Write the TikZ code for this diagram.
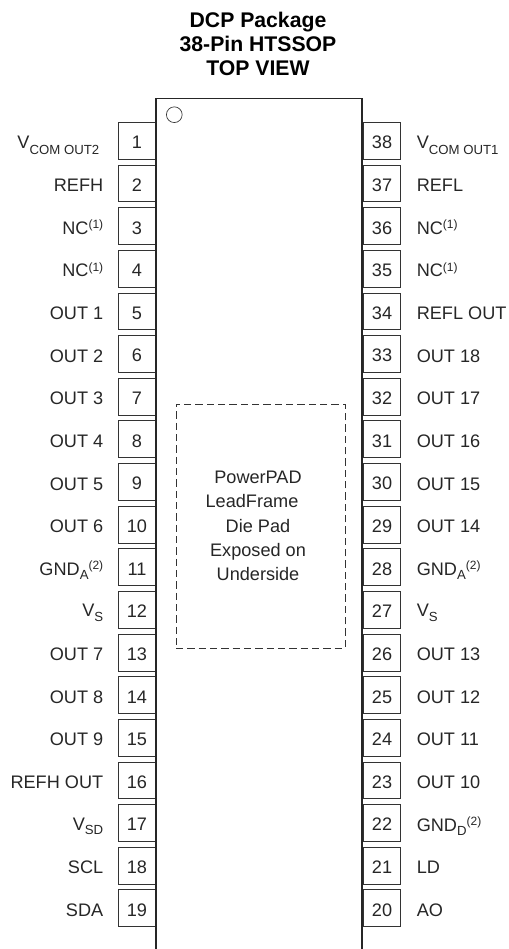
\documentclass[tikz,border=0pt]{standalone}
\usepackage{fontspec}
\setmainfont{Liberation Sans}
\usepackage{tikz}
\usetikzlibrary{calc}
\newcommand{\lsub}[2][3.2pt]{\raisebox{-#1}{\fontsize{9.9pt}{11pt}\selectfont #2}}
\newcommand{\lsup}[1]{\raisebox{4.2pt}{\fontsize{9pt}{11pt}\selectfont #1}}
\tikzset{
  pinbox/.style={draw=black!80,line width=0.6pt,minimum width=28.3pt,minimum height=27.7pt,inner sep=0pt,text height=11.9pt,text depth=0pt,font=\fontsize{13.6pt}{15pt}\selectfont,text=black!85},
  lname/.style={anchor=base east,inner sep=0pt,font=\fontsize{13.6pt}{15pt}\selectfont,text=black!85},
  rname/.style={anchor=base west,inner sep=0pt,font=\fontsize{13.6pt}{15pt}\selectfont,text=black!85},
}
\begin{document}
\begin{tikzpicture}[x=0.75pt,y=-0.75pt]
\useasboundingbox (0,0) rectangle (509,949);

\node[align=center,inner sep=0pt,font=\fontsize{15.9pt}{18pt}\selectfont\bfseries] (title) at (258,44) {DCP Package\\38-Pin HTSSOP\\TOP VIEW};

\node[pinbox] (P1) at (137,140.8) {1};
\node[pinbox] (P2) at (137,183.4) {2};
\node[pinbox] (P3) at (137,226.1) {3};
\node[pinbox] (P4) at (137,268.7) {4};
\node[pinbox] (P5) at (137,311.4) {5};
\node[pinbox] (P6) at (137,354.0) {6};
\node[pinbox] (P7) at (137,396.6) {7};
\node[pinbox] (P8) at (137,439.3) {8};
\node[pinbox] (P9) at (137,481.9) {9};
\node[pinbox] (P10) at (137,524.6) {10};
\node[pinbox] (P11) at (137,567.2) {11};
\node[pinbox] (P12) at (137,609.8) {12};
\node[pinbox] (P13) at (137,652.5) {13};
\node[pinbox] (P14) at (137,695.1) {14};
\node[pinbox] (P15) at (137,737.8) {15};
\node[pinbox] (P16) at (137,780.4) {16};
\node[pinbox] (P17) at (137,823.0) {17};
\node[pinbox] (P18) at (137,865.7) {18};
\node[pinbox] (P19) at (137,908.3) {19};

\node[pinbox] (P38) at (382,140.8) {38};
\node[pinbox] (P37) at (382,183.4) {37};
\node[pinbox] (P36) at (382,226.1) {36};
\node[pinbox] (P35) at (382,268.7) {35};
\node[pinbox] (P34) at (382,311.4) {34};
\node[pinbox] (P33) at (382,354.0) {33};
\node[pinbox] (P32) at (382,396.6) {32};
\node[pinbox] (P31) at (382,439.3) {31};
\node[pinbox] (P30) at (382,481.9) {30};
\node[pinbox] (P29) at (382,524.6) {29};
\node[pinbox] (P28) at (382,567.2) {28};
\node[pinbox] (P27) at (382,609.8) {27};
\node[pinbox] (P26) at (382,652.5) {26};
\node[pinbox] (P25) at (382,695.1) {25};
\node[pinbox] (P24) at (382,737.8) {24};
\node[pinbox] (P23) at (382,780.4) {23};
\node[pinbox] (P22) at (382,823.0) {22};
\node[pinbox] (P21) at (382,865.7) {21};
\node[pinbox] (P20) at (382,908.3) {20};

\node[lname] (L1) at (99.5,148.3) {V\lsub[5pt]{COM OUT2}};
\node[lname] (L2) at (103.5,191.6) {REFH};
\node[lname] (L3) at (103.5,234.2) {NC\lsup{(1)}};
\node[lname] (L4) at (103.5,276.8) {NC\lsup{(1)}};
\node[lname] (L5) at (103.5,319.5) {OUT 1};
\node[lname] (L6) at (103.5,362.1) {OUT 2};
\node[lname] (L7) at (103.5,404.7) {OUT 3};
\node[lname] (L8) at (103.5,447.4) {OUT 4};
\node[lname] (L9) at (103.5,490.0) {OUT 5};
\node[lname] (L10) at (103.5,532.7) {OUT 6};
\node[lname] (L11) at (103.5,575.3) {GND\lsub{A}\lsup{(2)}};
\node[lname] (L12) at (103.5,616.9) {V\lsub{S}};
\node[lname] (L13) at (103.5,660.6) {OUT 7};
\node[lname] (L14) at (103.5,703.2) {OUT 8};
\node[lname] (L15) at (103.5,745.9) {OUT 9};
\node[lname] (L16) at (103.5,788.5) {REFH OUT};
\node[lname] (L17) at (103.5,830.1) {V\lsub{SD}};
\node[lname] (L18) at (103.5,873.8) {SCL};
\node[lname] (L19) at (103.5,916.4) {SDA};

\node[rname] (R38) at (416.5,148.3) {V\lsub[5pt]{COM OUT1}};
\node[rname] (R37) at (416.5,191.6) {REFL};
\node[rname] (R36) at (416.5,234.2) {NC\lsup{(1)}};
\node[rname] (R35) at (416.5,276.8) {NC\lsup{(1)}};
\node[rname] (R34) at (416.5,319.5) {REFL OUT};
\node[rname] (R33) at (416.5,362.1) {OUT 18};
\node[rname] (R32) at (416.5,404.7) {OUT 17};
\node[rname] (R31) at (416.5,447.4) {OUT 16};
\node[rname] (R30) at (416.5,490.0) {OUT 15};
\node[rname] (R29) at (416.5,532.7) {OUT 14};
\node[rname] (R28) at (416.5,575.3) {GND\lsub{A}\lsup{(2)}};
\node[rname] (R27) at (416.5,616.9) {V\lsub{S}};
\node[rname] (R26) at (416.5,660.6) {OUT 13};
\node[rname] (R25) at (416.5,703.2) {OUT 12};
\node[rname] (R24) at (416.5,745.9) {OUT 11};
\node[rname] (R23) at (416.5,788.5) {OUT 10};
\node[rname] (R22) at (416.5,831.1) {GND\lsub{D}\lsup{(2)}};
\node[rname] (R21) at (416.5,873.8) {LD};
\node[rname] (R20) at (416.5,916.4) {AO};

% package outline, runs off the bottom
\fill[white] (156,949) rectangle (362,98.5);
\draw[line width=1.4pt,black!85] (156,949) -- (156,98.5) -- (362,98.5) -- (362,949);

\node[draw=black!80,circle,line width=0.5pt,minimum size=11.8pt,inner sep=0pt] (dot) at (174.3,114.7) {};

\node[draw=black!80,dash pattern=on 5.5pt off 3pt,line width=0.6pt,minimum width=126.7pt,minimum height=183pt,inner sep=0pt] (pad) at (260.5,526) {};
\node[align=center,inner sep=0pt,text=black!85,font=\fontsize{13.6pt}{18.2pt}\selectfont] (padtext) at (258,526) {PowerPAD\\\mbox{LeadFrame\hspace{9pt}}\\Die Pad\\Exposed on\\Underside};

\end{tikzpicture}
\end{document}
